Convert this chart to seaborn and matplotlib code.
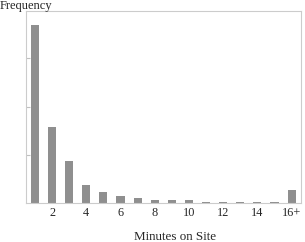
import matplotlib
matplotlib.use("Agg")
import matplotlib.pyplot as plt
import seaborn as sns
import pandas as pd

minutes = list(range(1, 17))
frequency = [3690, 1580, 870, 380, 220, 146, 97, 70, 56, 56, 30, 30, 30, 20, 20, 260]
tick_positions = [2, 4, 6, 8, 10, 12, 14, 16]
tick_labels = ["2", "4", "6", "8", "10", "12", "14", "16+"]

sns.set_style("white")
plt.rcParams['font.family'] = ['Liberation Serif', 'DejaVu Serif']

df = pd.DataFrame({"minutes": minutes, "frequency": frequency})

fig = plt.figure(figsize=(3.05, 2.42), dpi=100)
ax = fig.add_axes([26 / 305, 1 - 203 / 242, 275 / 305, 192 / 242])

sns.barplot(data=df, x="minutes", y="frequency", ax=ax, color="#8f8f8f",
            saturation=1, width=0.47, native_scale=True, edgecolor="none")

ax.set_xlim(0.475, 16.55)
ax.set_ylim(0, 3980)
ax.set_yticks([1000, 2000, 3000])
ax.set_yticklabels([])
ax.tick_params(axis="y", direction="in", length=3, color="#c0c0c0", width=0.8, left=True)
ax.set_xticks(tick_positions)
ax.set_xticklabels(tick_labels, fontsize=8.8)
ax.tick_params(axis="x", length=0, pad=3)
for s in ax.spines.values():
    s.set_color("#cccccc")
    s.set_linewidth(0.8)

ax.set_xlabel("")
ax.set_ylabel("")
fig.text(175 / 305, 2.5 / 242, "Minutes on Site", fontsize=9.4, ha="center", va="baseline")
fig.text(0.0, 0.998, "Frequency", fontsize=9, ha="left", va="top")

fig.savefig("out.png", dpi=100)
